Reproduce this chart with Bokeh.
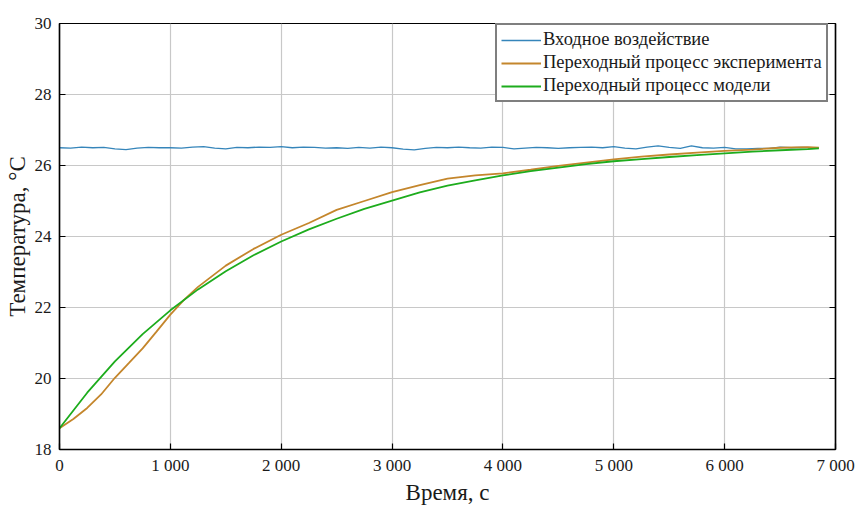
from bokeh.plotting import figure
from bokeh.models import FixedTicker, LinearAxis, Range1d, Legend, LegendItem
from bokeh.embed import file_html
from bokeh.resources import INLINE

# Input signal, 100 s step
t_input = list(range(0, 6900, 100)) + [6850]
t_input = sorted(set(t_input))
temp_input = [26.50, 26.49, 26.52, 26.50, 26.51, 26.47, 26.45, 26.49, 26.51, 26.50,
              26.50, 26.49, 26.52, 26.53, 26.49, 26.47, 26.51, 26.50, 26.52, 26.51,
              26.53, 26.50, 26.52, 26.51, 26.49, 26.50, 26.48, 26.51, 26.49, 26.52,
              26.50, 26.46, 26.44, 26.48, 26.51, 26.50, 26.52, 26.50, 26.49, 26.52,
              26.51, 26.47, 26.49, 26.51, 26.50, 26.48, 26.50, 26.51, 26.52, 26.50,
              26.53, 26.49, 26.47, 26.52, 26.55, 26.51, 26.48, 26.55, 26.50, 26.49,
              26.51, 26.47, 26.47, 26.48, 26.48, 26.52, 26.50, 26.51, 26.50, 26.49]

# Measured step response
t_experiment = [0, 125, 250, 375, 500, 625, 750, 875, 1000, 1125, 1250, 1500, 1750,
                2000, 2250, 2500, 2750, 3000, 3250, 3500, 3750, 4000, 4250, 4500,
                4750, 5000, 5250, 5500, 5750, 6000, 6250, 6500, 6750, 6850]
temp_experiment = [18.60, 18.86, 19.17, 19.55, 20.02, 20.43, 20.85, 21.32, 21.80,
                   22.22, 22.58, 23.18, 23.65, 24.05, 24.38, 24.75, 25.00, 25.25,
                   25.45, 25.63, 25.72, 25.78, 25.88, 25.99, 26.08, 26.17, 26.25,
                   26.31, 26.36, 26.41, 26.45, 26.50, 26.52, 26.50]

# Model step response, 250 s step
t_model = [0, 250, 500, 750, 1000, 1250, 1500, 1750, 2000, 2250, 2500, 2750, 3000,
           3250, 3500, 3750, 4000, 4250, 4500, 4750, 5000, 5250, 5500, 5750, 6000,
           6250, 6500, 6750, 6850]
temp_model = [18.60, 19.60, 20.48, 21.25, 21.92, 22.51, 23.02, 23.47, 23.86, 24.20,
              24.50, 24.78, 25.01, 25.24, 25.43, 25.58, 25.72, 25.84, 25.94, 26.04,
              26.12, 26.18, 26.24, 26.29, 26.34, 26.39, 26.43, 26.46, 26.48]

x_ticks = [0, 1000, 2000, 3000, 4000, 5000, 6000, 7000]
x_tick_labels = ["0", "1 000", "2 000", "3 000", "4 000", "5 000", "6 000", "7 000"]
y_ticks = [18, 20, 22, 24, 26, 28, 30]

series_names = ["Входное воздействие",
                "Переходный процесс эксперимента",
                "Переходный процесс модели"]
series_colors = ["#3585ba", "#c4862c", "#1dac1d"]

FONT = "Liberation Serif"

p = figure(width=857, height=507, output_backend="svg", toolbar_location=None,
           x_range=Range1d(0, 7000), y_range=Range1d(18, 30),
           min_border_left=59, min_border_right=22, min_border_top=23,
           min_border_bottom=58)
p.background_fill_color = "white"
p.border_fill_color = "white"
p.outline_line_color = "black"
p.outline_line_width = 1.2

r_in = p.line(t_input, temp_input, line_color=series_colors[0], line_width=1.3)
r_ex = p.line(t_experiment, temp_experiment, line_color=series_colors[1], line_width=1.8)
r_md = p.line(t_model, temp_model, line_color=series_colors[2], line_width=1.8)

p.xaxis.ticker = FixedTicker(ticks=x_ticks)
p.yaxis.ticker = FixedTicker(ticks=y_ticks)
p.xaxis.major_label_overrides = {t: s for t, s in zip(x_ticks, x_tick_labels)}
p.xgrid.ticker = FixedTicker(ticks=x_ticks)
p.ygrid.ticker = FixedTicker(ticks=y_ticks)
p.grid.grid_line_color = "#c8c8c8"
p.grid.grid_line_width = 1.2

for ax in (p.xaxis[0], p.yaxis[0]):
    ax.axis_line_color = "black"
    ax.axis_line_width = 1.5
    ax.major_tick_in = 6
    ax.major_tick_out = 0
    ax.major_tick_line_color = "black"
    ax.major_tick_line_width = 1.2
    ax.minor_tick_line_color = None
    ax.major_label_text_font = FONT
    ax.major_label_text_font_size = "17px"
    ax.major_label_text_color = "#1a1a1a"
    ax.axis_label_text_font = FONT
    ax.axis_label_text_font_style = "normal"
    ax.axis_label_text_color = "#1a1a1a"

p.xaxis.axis_label = "Время, с"
p.xaxis.axis_label_text_font_size = "23px"
p.xaxis.major_label_standoff = 6
p.xaxis.axis_label_standoff = 2
p.yaxis.axis_label = "Температура, °C"
p.yaxis.axis_label_text_font_size = "23px"
p.yaxis.major_label_standoff = 8
p.yaxis.axis_label_standoff = 2

# Inward ticks on the right edge, without labels
right_axis = LinearAxis(ticker=FixedTicker(ticks=y_ticks), major_tick_in=6,
                        major_tick_out=0, major_label_standoff=0,
                        major_label_overrides={t: "" for t in y_ticks},
                        minor_tick_line_color=None,
                        axis_line_color="black", axis_line_width=1.5,
                        major_tick_line_width=1.2)
p.add_layout(right_axis, "right")

legend = Legend(items=[LegendItem(label=series_names[0], renderers=[r_in]),
                       LegendItem(label=series_names[1], renderers=[r_ex]),
                       LegendItem(label=series_names[2], renderers=[r_md])],
                location=(436, 347))
legend.label_text_font = FONT
legend.label_text_font_size = "18.5px"
legend.label_text_color = "#1a1a1a"
legend.glyph_width = 40
legend.glyph_height = 20
legend.label_height = 20
legend.label_standoff = 2
legend.spacing = 2
legend.padding = 4
legend.margin = 0
legend.border_line_color = "black"
legend.border_line_width = 2.5
legend.background_fill_color = "white"
legend.background_fill_alpha = 1
p.add_layout(legend, "center")

open("out.html", "w").write(file_html(p, INLINE))
